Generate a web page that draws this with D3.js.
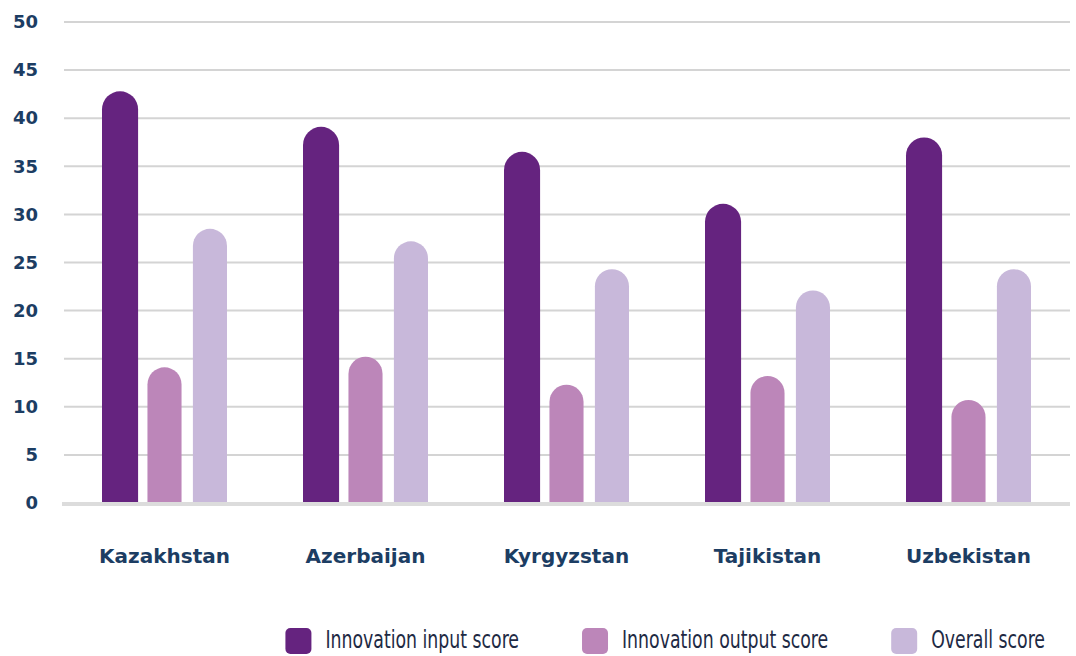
<!DOCTYPE html>
<html>
<head>
<meta charset="utf-8">
<script src="https://cdn.jsdelivr.net/npm/d3@7"></script>
<style>
  body { margin: 0; background: #fff; }
  svg { display: block; }
</style>
</head>
<body>
<div id="wrapper"></div>
<script>
const categories = ["Kazakhstan", "Azerbaijan", "Kyrgyzstan", "Tajikistan", "Uzbekistan"];
const seriesNames = ["Innovation input score", "Innovation output score", "Overall score"];
const inputScore = [42.8, 39.1, 36.5, 31.1, 38.0];
const outputScore = [14.1, 15.2, 12.3, 13.2, 10.7];
const overallScore = [28.5, 27.2, 24.3, 22.1, 24.3];
const yTicks = [0, 5, 10, 15, 20, 25, 30, 35, 40, 45, 50];

const colors = ["#65237f", "#bc86b9", "#c8b8da"];
const series = [inputScore, outputScore, overallScore];

function drawChart() {
    const width = 1076
    const height = 656
    const squeeze = 0.77 // legend font is narrower than anything installed

    const wrapper = d3.select("#wrapper")
        .append("svg")
        .attr("width", width)
        .attr("height", height);

    const yScaler = d3.scaleLinear()
        .domain([0, 50])
        .range([503, 22]);

    const xScaler = d3.scaleBand()
        .domain(categories)
        .range([64, 1069]);

    const innerScaler = d3.scaleBand()
        .domain(d3.range(seriesNames.length))
        .range([0, 125])
        .paddingInner(0.25);

    const groupOffset = (xScaler.bandwidth() - innerScaler.range()[1]) / 2;

    // grid lines
    wrapper.append("g")
        .selectAll("line")
        .data(yTicks.filter(d => d > 0))
        .enter()
        .append("line")
        .attr("x1", 64)
        .attr("x2", 1070)
        .attr("y1", d => yScaler(d))
        .attr("y2", d => yScaler(d))
        .attr("stroke", "#d4d4d4")
        .attr("stroke-width", 2);

    // y axis labels
    const yAxis = wrapper.append("g")
        .attr("transform", "translate(38,0)")
        .call(d3.axisLeft(yScaler).tickValues(yTicks).tickSize(0).tickPadding(0));
    yAxis.select(".domain").remove();
    yAxis.selectAll("text")
        .attr("fill", "#1c3d63")
        .attr("font-family", "'DejaVu Sans', sans-serif")
        .attr("font-weight", "bold")
        .attr("font-size", "18px");

    // bars with rounded tops
    const barPath = (x, w, v) => {
        const y0 = yScaler(0);
        const yt = yScaler(v);
        const r = w / 2;
        return `M${x},${y0} L${x},${yt + r} A${r},${r} 0 0 1 ${x + w},${yt + r} L${x + w},${y0} Z`;
    };

    const groups = wrapper.append("g")
        .selectAll("g")
        .data(categories)
        .enter()
        .append("g")
        .attr("transform", d => `translate(${xScaler(d) + groupOffset},0)`);

    groups.selectAll("path")
        .data((d, i) => series.map((s, j) => ({ j: j, v: s[i] })))
        .enter()
        .append("path")
        .attr("d", d => barPath(innerScaler(d.j), innerScaler.bandwidth() + (d.j === 0 ? 2 : 0), d.v))
        .attr("fill", d => colors[d.j]);

    // baseline
    wrapper.append("line")
        .attr("x1", 62)
        .attr("x2", 1070)
        .attr("y1", yScaler(0) + 1)
        .attr("y2", yScaler(0) + 1)
        .attr("stroke", "#dcdcdc")
        .attr("stroke-width", 4);

    // x axis labels
    const xAxis = wrapper.append("g")
        .attr("transform", "translate(0,563)")
        .call(d3.axisBottom(xScaler).tickSize(0).tickPadding(0));
    xAxis.select(".domain").remove();
    xAxis.selectAll("text")
        .attr("dy", 0)
        .attr("fill", "#1c3d63")
        .attr("font-family", "'DejaVu Sans', sans-serif")
        .attr("font-weight", "bold")
        .attr("font-size", "20px");

    // legend
    const legend = wrapper.append("g");
    const items = legend.selectAll("g")
        .data(seriesNames)
        .enter()
        .append("g");

    items.append("rect")
        .attr("width", 26)
        .attr("height", 26)
        .attr("rx", 5)
        .attr("y", 628)
        .attr("fill", (d, i) => colors[i]);

    items.append("g")
        .attr("transform", `translate(40,0) scale(${squeeze},1)`)
        .append("text")
        .attr("y", 648)
        .text(d => d)
        .attr("fill", "#1e2a44")
        .attr("font-family", "'DejaVu Sans Condensed', 'DejaVu Sans', sans-serif")
        .attr("font-size", "25px");

    // lay out legend items from right edge
    let xPos = 1045;
    const widths = [];
    items.each(function () {
        const t = d3.select(this).select("text").node();
        widths.push(40 + t.getComputedTextLength() * squeeze);
    });
    const offsets = [];
    for (let i = widths.length - 1; i >= 0; i--) {
        xPos -= widths[i];
        offsets[i] = xPos;
        xPos -= 63;
    }
    items.attr("transform", (d, i) => `translate(${offsets[i]},0)`);
}

drawChart();
</script>
</body>
</html>
